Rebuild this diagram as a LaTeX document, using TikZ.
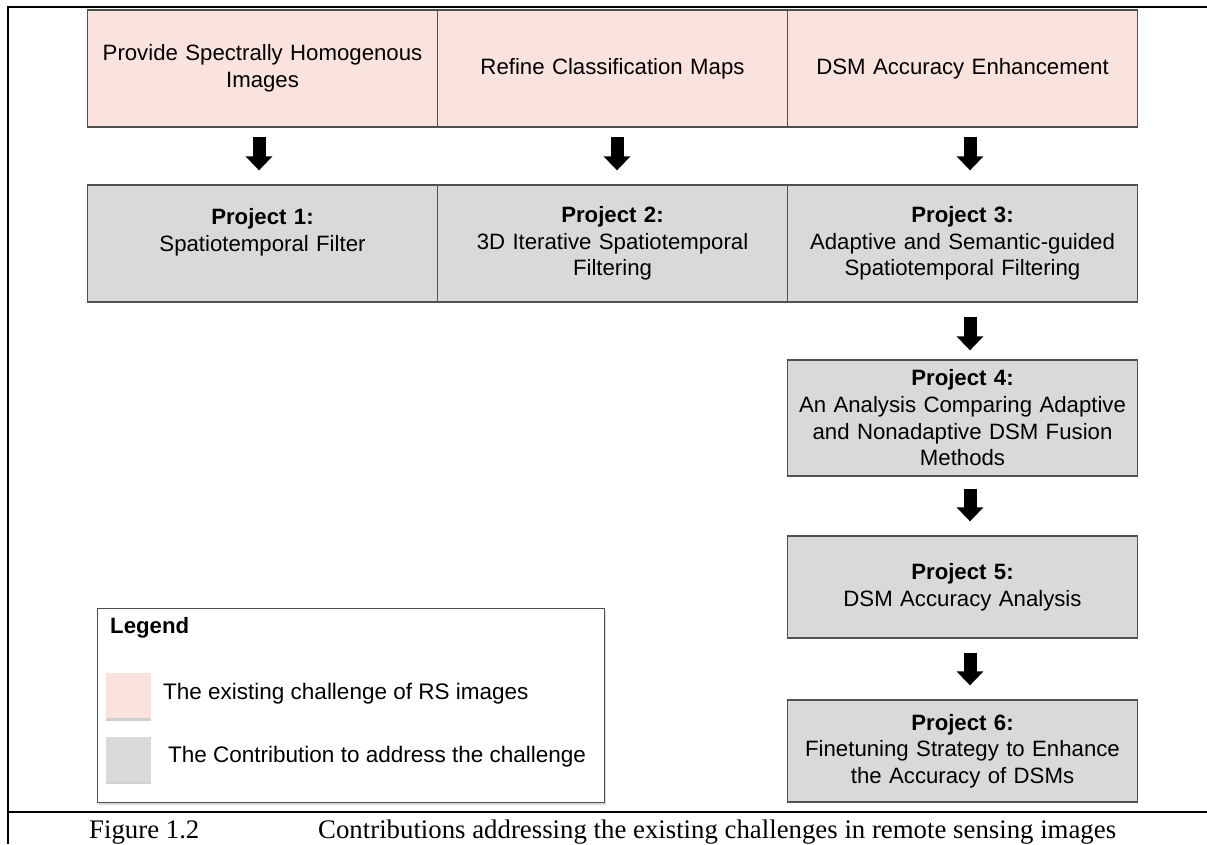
\documentclass[tikz,border=0pt]{standalone}
\usepackage{fontspec}
\setmainfont{Liberation Sans}
\newfontfamily\capfont{Liberation Serif}
\usetikzlibrary{arrows.meta,calc,shadows}
\definecolor{pinkfill}{HTML}{FAE3DD}
\definecolor{grayfill}{HTML}{D9D9D9}
\definecolor{boxline}{HTML}{505050}
\begin{document}
\begin{tikzpicture}[x=1pt,y=-1pt,
  box/.style={draw=boxline, line width=1.3pt, minimum width=350pt, text width=340pt,
    align=center, inner sep=0pt, font=\fontsize{22.2}{26.7}\selectfont},
  chal/.style={box, fill=pinkfill, minimum height=117pt},
  proj/.style={box, fill=grayfill},
  blk/.style={line width=13pt, -{Triangle[width=26pt,length=14pt]}},
  frameline/.style={line width=2.6pt},
  legtext/.style={anchor=west, inner sep=0pt, font=\fontsize{22.5}{26}\selectfont},
  swatch/.style={minimum width=45pt, minimum height=45pt, inner sep=0pt,
    drop shadow={shadow xshift=0.5pt, shadow yshift=-2.5pt, fill=black!30, opacity=0.6}},
  captext/.style={anchor=base west, inner sep=0pt, font=\capfont\fontsize{26.8}{30}\selectfont}]
\useasboundingbox (0,0) rectangle (1207,844);
\fill[white] (0,0) rectangle (1207,844);

% frame lines
\draw[frameline] (1207,7) -- (8,7) -- (8,844);
\draw[frameline] (8,812) -- (1207,812);

% challenges
\node[chal] (c1) at (262.5,68.5) {Provide Spectrally Homogenous\\Images};
\node[chal] (c2) at (612.5,68.5) {Refine Classification Maps};
\node[chal] (c3) at (962.5,68.5) {DSM Accuracy Enhancement};

% projects row
\node[proj, minimum height=117pt] (p1) at (262.5,243.5) {\textbf{Project 1:}\\Spatiotemporal Filter\\\mbox{}};
\node[proj, minimum height=117pt] (p2) at (612.5,243.5) {\textbf{Project 2:}\\3D Iterative Spatiotemporal\\Filtering};
\node[proj, minimum height=117pt] (p3) at (962.5,243.5) {\textbf{Project 3:}\\Adaptive and Semantic-guided\\Spatiotemporal Filtering};

% right column
\node[proj, minimum height=116pt] (p4) at (962.5,418) {\textbf{Project 4:}\\An Analysis Comparing Adaptive\\and Nonadaptive DSM Fusion\\Methods};
\node[proj, minimum height=102pt] (p5) at (962.5,587) {\textbf{Project 5:}\\DSM Accuracy Analysis};
\node[proj, minimum height=102pt] (p6) at (962.5,751) {\textbf{Project 6:}\\Finetuning Strategy to Enhance\\the Accuracy of DSMs};

% arrows
\draw[blk, shorten <=9pt, shorten >=14pt] ([xshift=-3.5pt]c1.south) -- ([xshift=-3.5pt]p1.north);
\draw[blk, shorten <=9pt, shorten >=14pt] ([xshift=4.5pt]c2.south) -- ([xshift=4.5pt]p2.north);
\draw[blk, shorten <=9pt, shorten >=14pt] ([xshift=7.5pt]c3.south) -- ([xshift=7.5pt]p3.north);
\draw[blk, shorten <=14pt, shorten >=9pt] ([xshift=7.5pt]p3.south) -- ([xshift=7.5pt]p4.north);
\draw[blk, shorten <=12pt, shorten >=14pt] ([xshift=7.5pt]p4.south) -- ([xshift=7.5pt]p5.north);
\draw[blk, shorten <=14pt, shorten >=14pt] ([xshift=7.5pt]p5.south) -- ([xshift=7.5pt]p6.north);

% legend
\node[draw=boxline, line width=1.2pt, fill=white, minimum width=507pt, minimum height=194pt,
  anchor=north west, inner sep=0pt,
  drop shadow={shadow xshift=1pt, shadow yshift=-2pt, fill=black!25, opacity=0.6}] (leg) at (97,608) {};
\node[anchor=west, inner sep=0pt, font=\fontsize{22.2}{26}\selectfont\bfseries] (legtitle) at (110,628) {Legend};
\node[swatch, fill=pinkfill] (sw1) at (128,695.5) {};
\node[swatch, fill=grayfill] (sw2) at (128,759) {};
\node[legtext] (lt1) at (163,694) {The existing challenge of RS images};
\node[legtext] (lt2) at (168,757) {The Contribution to address the challenge};

% caption
\node[captext] (fig) at (89,838) {Figure 1.2};
\node[captext] (cap) at (318,838) {Contributions addressing the existing challenges in remote sensing images};
\end{tikzpicture}
\end{document}
